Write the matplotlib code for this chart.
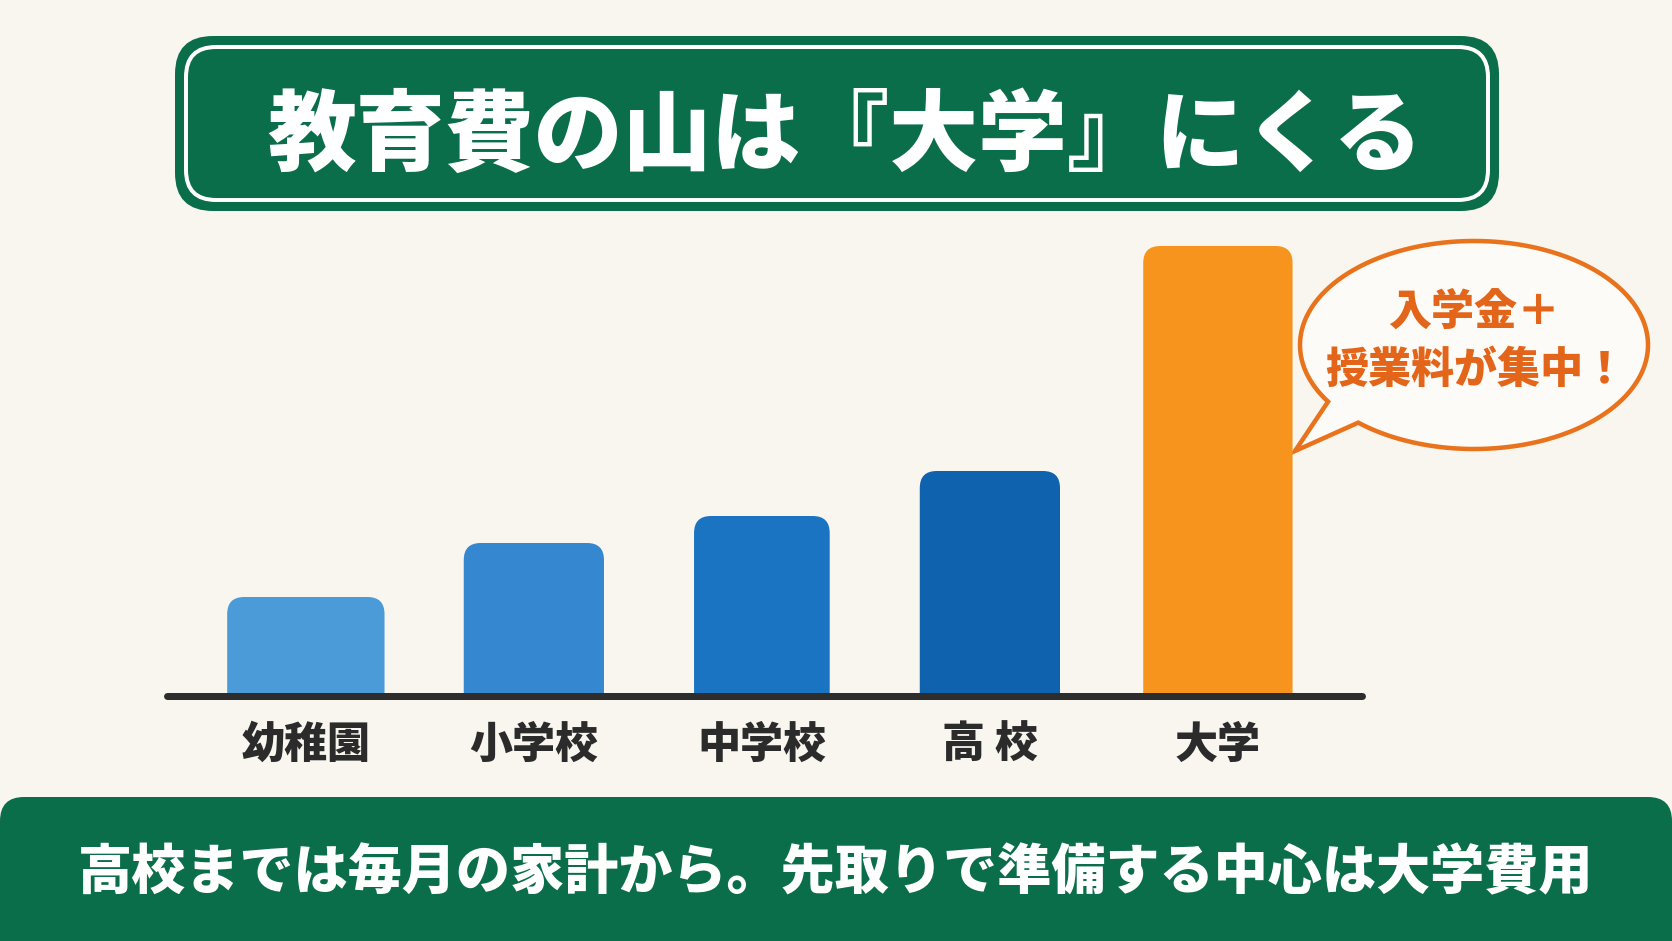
import matplotlib
matplotlib.use("Agg")
import numpy as np
import matplotlib.pyplot as plt
from matplotlib.patches import FancyBboxPatch, PathPatch
from matplotlib.path import Path

plt.rcParams["font.family"] = ["Noto Sans CJK JP", "DejaVu Sans"]

TITLE = "教育費の山は『大学』にくる"
STAGES = ["幼稚園", "小学校", "中学校", "高 校", "大学"]
COSTS = [22, 34, 40, 50, 100]  # relative bar heights
BAR_COLORS = ["#4b9bd9", "#3587cf", "#1b74c2", "#0f62ae", "#f7941d"]
BAR_WIDTHS = [0.69, 0.615, 0.595, 0.615, 0.655]
CALLOUT_LINES = ["入学金＋", "授業料が集中！"]
FOOTER = "高校までは毎月の家計から。先取りで準備する中心は大学費用"

BG = "#f9f6ef"
GREEN = "#0b6e4b"
ORANGE = "#e8731c"
W, H = 1672, 941
CORNER_PX = 17


def px(v):
    # pixel length -> points at dpi 100
    return v * 0.72


fig = plt.figure(figsize=(W / 100, H / 100), dpi=100, facecolor=BG)

# decoration layer in pixel coordinates (y down)
deco = fig.add_axes([0, 0, 1, 1])
deco.set_xlim(0, W)
deco.set_ylim(H, 0)
deco.axis("off")

# title plate
deco.add_patch(FancyBboxPatch((175, 36), 1324, 175,
                              boxstyle="round,pad=0,rounding_size=38",
                              fc=GREEN, ec="none"))
deco.add_patch(FancyBboxPatch((186, 47), 1302, 153,
                              boxstyle="round,pad=0,rounding_size=30",
                              fc="none", ec="white", lw=px(4)))
deco.text(845, 137, TITLE, ha="center", va="center", color="white",
          fontsize=64, fontweight="black")

# footer banner
deco.add_patch(FancyBboxPatch((0, 797), W, 200,
                              boxstyle="round,pad=0,rounding_size=24",
                              fc=GREEN, ec="none"))
deco.text(W / 2, 873, FOOTER, ha="center", va="center", color="white",
          fontsize=39, fontweight="black")

# speech bubble
cx, cy, a, b = 1474, 345, 174, 104
t1, t2 = np.radians(131.7), np.radians(147)
ts = np.linspace(t2, t1 + 2 * np.pi, 240)
pts = [(cx + a * np.cos(t), cy + b * np.sin(t)) for t in ts]
pts.append((1295, 451))
pts.append(pts[0])
codes = [Path.MOVETO] + [Path.LINETO] * (len(pts) - 2) + [Path.CLOSEPOLY]
deco.add_patch(PathPatch(Path(pts, codes), fc="#fdfbf7", ec=ORANGE,
                         lw=px(4.5), joinstyle="miter"))
deco.text(1474, 312, CALLOUT_LINES[0], ha="center", va="center",
          color="#e3651a", fontsize=31, fontweight="black")
deco.text(1476, 370, CALLOUT_LINES[1], ha="center", va="center",
          color="#e3651a", fontsize=31, fontweight="black")

# bar chart
ax = fig.add_axes([167 / W, (H - 696) / H, 1195 / W, 495 / H])
ax.patch.set_alpha(0)
x = np.arange(len(STAGES))
ax.set_xlim(-0.609, 4.632)
ax.set_ylim(0, 110)
bars = ax.bar(x, COSTS, width=BAR_WIDTHS, color=BAR_COLORS)

bbox = ax.get_window_extent()
kx = (ax.get_xlim()[1] - ax.get_xlim()[0]) / bbox.width
ky = (ax.get_ylim()[1] - ax.get_ylim()[0]) / bbox.height
for rect, color in zip(bars, BAR_COLORS):
    rect.set_visible(False)
    r = CORNER_PX * kx
    ax.add_patch(FancyBboxPatch((rect.get_x(), -3 * CORNER_PX * ky),
                                rect.get_width(),
                                rect.get_height() + 3 * CORNER_PX * ky,
                                boxstyle=f"round,pad=0,rounding_size={r}",
                                mutation_aspect=ky / kx,
                                fc=color, ec="none"))

ax.axhline(0, color="#2d2d2d", lw=px(7), solid_capstyle="round",
           clip_on=False, zorder=5)
ax.set_xticks(x, STAGES, fontsize=31, fontweight="black", color="#2b2b2b")
ax.tick_params(axis="x", length=0, pad=20)
ax.set_yticks([])
for s in ax.spines.values():
    s.set_visible(False)

fig.savefig("out.png", dpi=100, facecolor=BG)
